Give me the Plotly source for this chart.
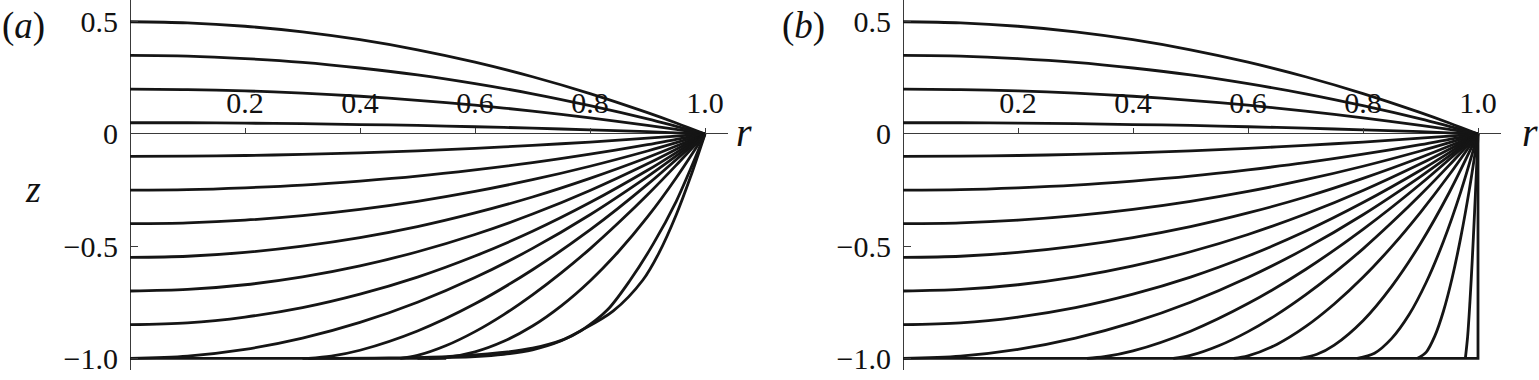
import plotly.graph_objects as go

# ---------------- data ----------------
# curves shared by both panels: start at r=0 on the axis and meet at (1, 0)
shared_r = [0, 0.1, 0.2, 0.3, 0.4, 0.5, 0.6, 0.7, 0.8, 0.9, 0.95, 1.0]
shared_z = [
    [0.5, 0.495, 0.48, 0.455, 0.42, 0.375, 0.32, 0.255, 0.18, 0.095, 0.049, 0],
    [0.35, 0.347, 0.336, 0.319, 0.294, 0.263, 0.224, 0.179, 0.126, 0.067, 0.034, 0],
    [0.2, 0.198, 0.192, 0.182, 0.168, 0.15, 0.128, 0.102, 0.072, 0.038, 0.02, 0],
    [0.05, 0.05, 0.048, 0.046, 0.042, 0.038, 0.032, 0.026, 0.018, 0.01, 0.005, 0],
    [-0.1, -0.099, -0.096, -0.091, -0.084, -0.075, -0.064, -0.051, -0.036, -0.019, -0.01, 0],
    [-0.25, -0.248, -0.24, -0.228, -0.21, -0.188, -0.16, -0.128, -0.09, -0.048, -0.024, 0],
    [-0.4, -0.396, -0.384, -0.364, -0.336, -0.3, -0.256, -0.204, -0.144, -0.076, -0.039, 0],
    [-0.55, -0.545, -0.528, -0.5, -0.462, -0.413, -0.352, -0.281, -0.198, -0.105, -0.054, 0],
    [-0.7, -0.693, -0.672, -0.637, -0.588, -0.525, -0.448, -0.357, -0.252, -0.133, -0.068, 0],
    [-0.85, -0.842, -0.816, -0.774, -0.714, -0.638, -0.544, -0.434, -0.306, -0.162, -0.083, 0],
    [-1.0, -0.99, -0.96, -0.91, -0.84, -0.75, -0.64, -0.51, -0.36, -0.19, -0.098, 0],
]

# panel (a): curves leaving the bottom z=-1
a_bottom_r = [
    [0.31, 0.35, 0.4, 0.5, 0.6, 0.7, 0.8, 0.9, 1.0],
    [0.47, 0.5, 0.55, 0.6, 0.65, 0.7, 0.75, 0.8, 0.85, 0.9, 0.95, 1.0],
    [0.52, 0.55, 0.6, 0.65, 0.7, 0.75, 0.8, 0.85, 0.9, 0.95, 1.0],
    [0.3, 0.45, 0.55, 0.643, 0.7, 0.75, 0.786, 0.84, 0.892, 0.92, 0.95, 0.975, 1.0],
    [0.5, 0.6, 0.65, 0.7, 0.75, 0.786, 0.83, 0.87, 0.91, 0.95, 0.975, 1.0],
]
a_bottom_z = [
    [-1.0, -0.99, -0.964, -0.878, -0.757, -0.605, -0.428, -0.225, 0],
    [-1.0, -0.987, -0.943, -0.881, -0.805, -0.717, -0.619, -0.512, -0.395, -0.271, -0.139, 0],
    [-1.0, -0.996, -0.971, -0.924, -0.856, -0.766, -0.655, -0.523, -0.37, -0.195, 0],
    [-1.0, -0.998, -0.992, -0.975, -0.955, -0.92, -0.874, -0.79, -0.651, -0.53, -0.36, -0.19, 0],
    [-1.0, -0.992, -0.982, -0.962, -0.922, -0.874, -0.785, -0.651, -0.49, -0.3, -0.155, 0],
]
a_floor_r = [0.0, 0.55]
a_floor_z = [-1.0, -1.0]

# panel (b): curves leaving the bottom z=-1, plus the container boundary
b_bottom_r = [
    [0.32, 0.35, 0.4, 0.5, 0.6, 0.7, 0.8, 0.9, 1.0],
    [0.47, 0.5, 0.55, 0.6, 0.65, 0.7, 0.75, 0.8, 0.85, 0.9, 0.95, 1.0],
    [0.575, 0.6, 0.65, 0.7, 0.75, 0.8, 0.85, 0.9, 0.95, 1.0],
    [0.69, 0.72, 0.75, 0.8, 0.85, 0.9, 0.95, 1.0],
    [0.79, 0.82, 0.85, 0.88, 0.91, 0.94, 0.97, 1.0],
    [0.895, 0.91, 0.925, 0.94, 0.955, 0.97, 0.985, 1.0],
    [0.978, 0.982, 0.986, 0.99, 0.994, 0.997, 1.0],
]
b_bottom_z = [
    [-1.0, -0.993, -0.967, -0.879, -0.756, -0.604, -0.425, -0.223, 0],
    [-1.0, -0.987, -0.943, -0.881, -0.805, -0.717, -0.619, -0.512, -0.395, -0.271, -0.139, 0],
    [-1.0, -0.989, -0.938, -0.859, -0.758, -0.639, -0.502, -0.349, -0.182, 0],
    [-1.0, -0.982, -0.941, -0.832, -0.679, -0.488, -0.261, 0],
    [-1.0, -0.977, -0.911, -0.806, -0.661, -0.478, -0.258, 0],
    [-1.0, -0.972, -0.9, -0.789, -0.642, -0.461, -0.247, 0],
    [-1.0, -0.902, -0.747, -0.562, -0.352, -0.181, 0],
]
boundary_r = [0.0, 1.0, 1.0]
boundary_z = [-1.0, -1.0, 0.0]

x_ticks = [0.2, 0.4, 0.6, 0.8, 1.0]
x_ticktext = ["0.2", "0.4", "0.6", "0.8", "1.0"]
y_ticks = [0.5, 0, -0.5, -1.0]
y_ticktext = ["0.5", "0", "\u22120.5", "\u22121.0"]

# ---------------- figure ----------------
W, H = 1539, 380
FONT = "Liberation Serif"
LINE = dict(color="#151515", width=2.8)

fig = go.Figure()


def add_curve(r, z, xa, ya, shape="spline", smoothing=0.9):
    fig.add_trace(go.Scatter(x=r, y=z, mode="lines", xaxis=xa, yaxis=ya,
                             line=dict(LINE, shape=shape, smoothing=smoothing),
                             hoverinfo="skip", showlegend=False))


for xa, ya in (("x", "y"), ("x2", "y2")):
    for zz in shared_z:
        add_curve(shared_r, zz, xa, ya)

add_curve(a_floor_r, a_floor_z, "x", "y", shape="linear")
for r, z in zip(a_bottom_r, a_bottom_z):
    add_curve(r, z, "x", "y")
add_curve(boundary_r, boundary_z, "x2", "y2", shape="linear")
for r, z in zip(b_bottom_r, b_bottom_z):
    add_curve(r, z, "x2", "y2")

y_range = [-1.052, 0.597]
px_per_r = 575.0
pos_zero = (0 - y_range[0]) / (y_range[1] - y_range[0])

left_a, left_b = 130, 903
xr_end = 1.04


def xaxis(left):
    return dict(domain=[left / W, (left + xr_end * px_per_r) / W], range=[0, xr_end],
                anchor="free", position=pos_zero, side="top",
                showline=False, showgrid=False,
                zeroline=True, zerolinecolor="#3a3a3a", zerolinewidth=1.4,
                tickmode="array", tickvals=x_ticks, ticktext=x_ticktext,
                ticks="outside", ticklen=6, tickwidth=1.2, tickcolor="#3a3a3a",
                ticklabelstandoff=3,
                tickfont=dict(family=FONT, size=30, color="#111"))


def yaxis(left):
    return dict(domain=[0, 1], range=y_range, anchor="free", position=left / W,
                showline=False, showgrid=False,
                zeroline=True, zerolinecolor="#3a3a3a", zerolinewidth=1.4,
                tickmode="array", tickvals=y_ticks, ticktext=y_ticktext,
                ticks="inside", ticklen=7, tickwidth=1.2, tickcolor="#3a3a3a",
                ticklabelstandoff=12,
                tickfont=dict(family=FONT, size=30, color="#111"))


fig.update_layout(
    width=W, height=H,
    margin=dict(l=0, r=0, t=0, b=10),
    paper_bgcolor="white", plot_bgcolor="white",
    xaxis=xaxis(left_a), yaxis=yaxis(left_a),
    xaxis2=xaxis(left_b), yaxis2=yaxis(left_b),
    showlegend=False,
)


def label(text, x, y, size):
    fig.add_annotation(text=text, x=x / W, y=1 - y / (H - 10), xref="paper", yref="paper",
                       showarrow=False, xanchor="center", yanchor="middle",
                       font=dict(family=FONT, size=size, color="#111"))


label("(<i>a</i>)", 23, 26, 37)
label("(<i>b</i>)", 803, 26, 37)
label("<i>r</i>", 744, 132, 40)
label("<i>r</i>", 1530, 132, 40)
label("<i>z</i>", 33, 189, 38)

fig.write_html("out.html", config={"displayModeBar": False},
               post_script="document.body.style.margin='0px';document.body.style.padding='0px';")
